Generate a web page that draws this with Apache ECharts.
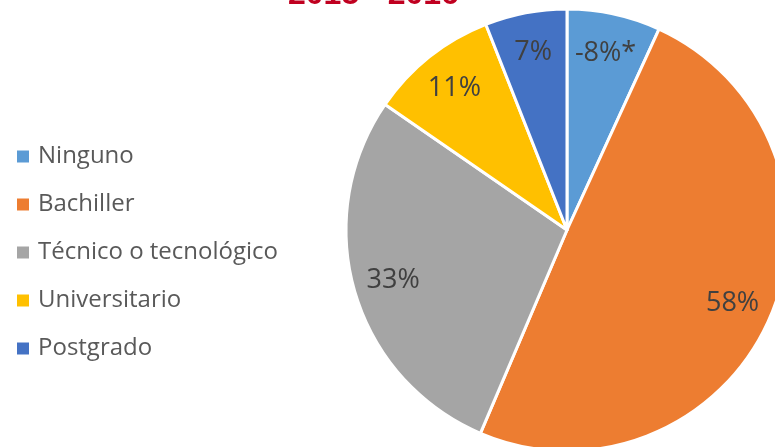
<!DOCTYPE html>
<html>
<head>
<meta charset="utf-8">
<script src="https://cdn.jsdelivr.net/npm/echarts@6/dist/echarts.min.js"></script>
<style>
  html, body { margin: 0; padding: 0; background: #fff; }
  #chart { width: 775px; height: 447px; }
</style>
</head>
<body>
<div id="chart"></div>
<script>
const categories = ['Ninguno', 'Bachiller', 'Técnico o tecnológico', 'Universitario', 'Postgrado']
const values = [8, 58, 33, 11, 7]
const labelTexts = ['-8%*', '58%', '33%', '11%', '7%']
const colors = ['#5B9BD5', '#ED7D31', '#A5A5A5', '#FFC000', '#4472C4']

const pieData = categories.map((name, i) => ({
  name: name,
  value: values[i],
  itemStyle: { color: colors[i] },
}))

// ghost pie: bigger radius so the inside labels sit at ~0.82 of the real radius
const labelData = categories.map((name, i) => ({
  name: name,
  value: values[i],
  label: { formatter: labelTexts[i] },
}))

const chart = echarts.init(document.getElementById('chart'))
chart.setOption({
  animation: false,
  title: {
    text: '2015 - 2016',
    left: 283,
    top: -26,
    textStyle: {
      color: '#C00020',
      fontSize: 32,
      fontWeight: 'bold',
      fontFamily: 'Liberation Sans',
    },
  },
  legend: {
    orient: 'vertical',
    left: 10,
    top: 138,
    icon: 'rect',
    itemWidth: 14,
    itemHeight: 14,
    itemGap: 21,
    data: categories,
    textStyle: {
      color: '#595959',
      fontSize: 24,
      lineHeight: 27,
      fontFamily: 'Open Sans',
      padding: [0, 0, 0, 3],
    },
  },
  series: [
    {
      type: 'pie',
      center: [567, 230],
      radius: [0, 221],
      startAngle: 90,
      clockwise: true,
      data: pieData,
      label: { show: false },
      labelLine: { show: false },
      itemStyle: { borderColor: '#fff', borderWidth: 3 },
    },
    {
      type: 'pie',
      center: [567, 230],
      radius: [0, 356],
      startAngle: 90,
      clockwise: true,
      silent: true,
      data: labelData,
      itemStyle: { color: 'rgba(0,0,0,0)' },
      label: {
        show: true,
        position: 'inside',
        color: '#404040',
        fontSize: 27,
        fontFamily: 'Open Sans',
      },
      labelLine: { show: false },
    },
  ],
})
</script>
</body>
</html>
